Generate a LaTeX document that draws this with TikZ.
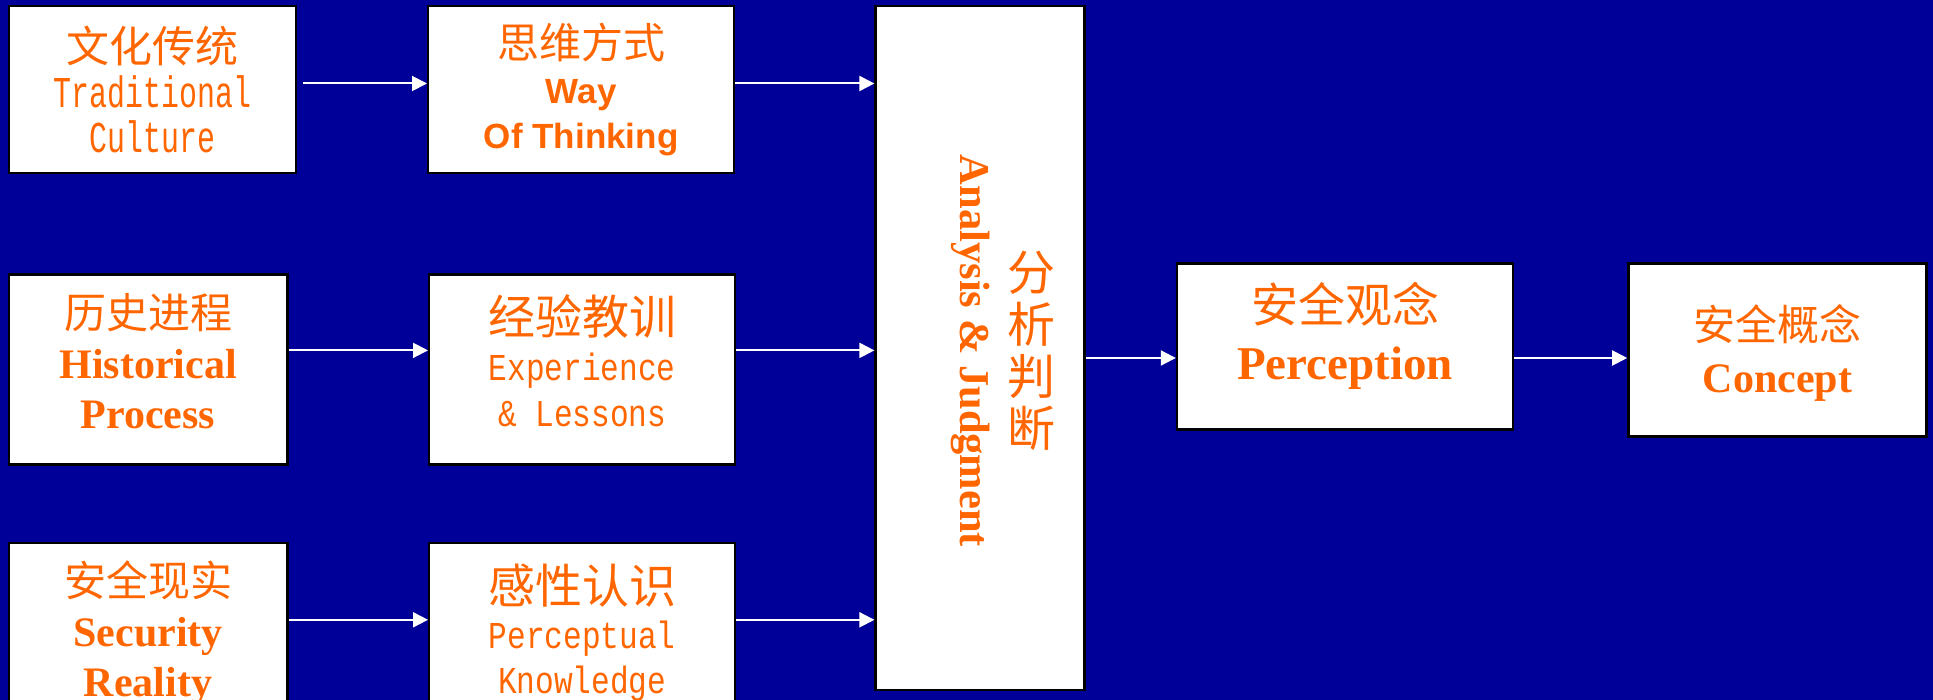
\documentclass[tikz,border=0pt]{standalone}
\usepackage{fontspec}
\setmainfont{Liberation Serif}
\newfontfamily\cjk{Noto Sans CJK SC}
\newfontfamily\monon[FakeStretch=0.68]{Liberation Mono}
\newfontfamily\monow[FakeStretch=0.82]{Liberation Mono}
\newfontfamily\arial{Liberation Sans}
\usetikzlibrary{arrows.meta, positioning}
\definecolor{navy}{HTML}{000099}
\definecolor{orng}{HTML}{FF6600}
\newcommand{\zh}[1]{\cjk\fontsize{#1}{#1}\selectfont}
\newcommand{\mn}[1]{\monon\fontsize{#1}{#1}\selectfont}
\newcommand{\mnb}[1]{\monow\fontsize{#1}{#1}\selectfont}
\newcommand{\sfb}[1]{\arial\bfseries\fontsize{#1}{#1}\selectfont}
\newcommand{\rmb}[1]{\rmfamily\bfseries\fontsize{#1}{#1}\selectfont}

\begin{document}
\begin{tikzpicture}[x=1pt, y=-1pt]
        \tikzstyle{blk} = [draw=black, fill=white, line width=2.4pt, inner sep=0pt]
        \tikzstyle{txt} = [inner sep=0pt, align=center, text=orng]
        \tikzstyle{flow} = [-{Triangle[length=15pt, width=15pt]}, draw=white, line width=2pt]
        \fill[navy] (0,0) rectangle (1933,700);
        \useasboundingbox (0,0) rectangle (1933,700);
        % left columns
        \node[blk, minimum width=287pt, minimum height=167pt] (cult) at (152.3,89.5) {};
        \node[blk, minimum width=306pt, minimum height=167pt, right=130pt of cult] (wot) {};
        \node[blk, minimum width=278.5pt, minimum height=190pt, below right=99pt and 0pt of cult.south west] (hist) {};
        \node[blk, minimum width=306pt, minimum height=190pt, right=139.5pt of hist] (expl) {};
        \node[blk, minimum width=278.5pt, minimum height=180pt, below right=76pt and 0pt of hist.south west] (secu) {};
        \node[blk, minimum width=306pt, minimum height=180pt, right=139.5pt of secu] (perc) {};
        % analysis and results
        \node[blk, minimum width=209pt, minimum height=684pt, below right=0pt and 139pt of wot.north east] (ana) {};
        \node[blk, minimum width=336pt, minimum height=166pt, right=90pt of ana, yshift=1.5pt] (percept) {};
        \node[blk, minimum width=298pt, minimum height=173pt, right=113pt of percept, yshift=-3.5pt] (conc) {};
        % texts
        \node[txt, font=\fontsize{40}{45}\selectfont] (cult-t) at (cult)
          {{\zh{43}文化传统}\\{\mn{44}Traditional}\\{\mn{44}Culture}};
        \node[txt, font=\fontsize{40}{45}\selectfont] (wot-t) at (wot)
          {{\zh{42}思维方式}\\{\sfb{35}Way}\\{\sfb{35}Of Thinking}};
        \node[txt, font=\fontsize{40}{50}\selectfont, yshift=8pt] (hist-t) at (hist)
          {{\zh{42}历史进程}\\{\rmb{42}Historical}\\{\rmb{42}Process}};
        \node[txt, font=\fontsize{40}{46}\selectfont, yshift=9pt] (expl-t) at (expl)
          {{\zh{47}经验教训}\\{\mnb{38}Experience}\\{\mnb{38}\& Lessons}};
        \node[txt, font=\fontsize{40}{50}\selectfont] (secu-t) at (secu)
          {{\zh{42}安全现实}\\{\rmb{42}Security}\\{\rmb{42}Reality}};
        \node[txt, font=\fontsize{40}{45}\selectfont] (perc-t) at (perc)
          {{\zh{47}感性认识}\\{\mnb{38}Perceptual}\\{\mnb{38}Knowledge}};
        \node[txt, font=\cjk\fontsize{48}{52}\selectfont] (ana-zh) at ([xshift=51pt, yshift=-3pt]ana.center) {分\\析\\判\\断};
        \node[txt, rotate=-90, font=\rmb{42.5}] (ana-en) at ([xshift=-10pt, yshift=-3pt]ana.center) {Analysis \& Judgment};
        \node[txt, font=\fontsize{40}{57}\selectfont, yshift=11pt] (percept-t) at (percept)
          {{\zh{47}安全观念}\\{\rmb{47}Perception}};
        \node[txt, font=\fontsize{40}{52}\selectfont, yshift=-3pt] (conc-t) at (conc)
          {{\zh{42}安全概念}\\{\rmb{42}Concept}};
        % arrows
        \draw[flow, shorten <=6pt] ([yshift=6pt]cult.east) -- ([yshift=6pt]wot.west);
        \draw[flow] ([yshift=6pt]wot.east) -- ([yshift=6pt]wot.east -| ana.west);
        \draw[flow] ([yshift=19pt]hist.east) -- ([yshift=19pt]expl.west);
        \draw[flow] ([yshift=19pt]expl.east) -- ([yshift=19pt]expl.east -| ana.west);
        \draw[flow] ([yshift=13pt]secu.east) -- ([yshift=13pt]perc.west);
        \draw[flow] ([yshift=13pt]perc.east) -- ([yshift=13pt]perc.east -| ana.west);
        \draw[flow] ([yshift=-10pt]ana.east) -- ([yshift=-10pt]ana.east -| percept.west);
        \draw[flow] ([yshift=-10pt]ana.east -| percept.east) -- ([yshift=-10pt]ana.east -| conc.west);
\end{tikzpicture}
\end{document}
